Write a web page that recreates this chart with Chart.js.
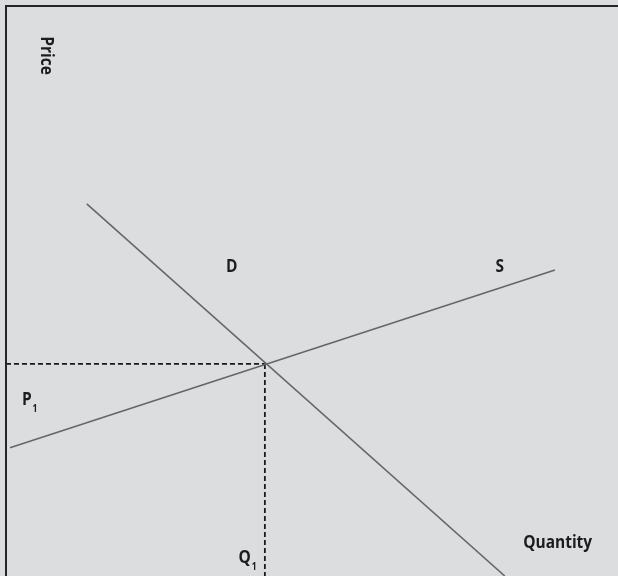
<!DOCTYPE html>
<html>
<head>
<meta charset="utf-8">
<script src="https://cdn.jsdelivr.net/npm/chart.js@4/dist/chart.umd.min.js"></script>
<style>
  html, body { margin: 0; padding: 0; background: #dcdddf; }
  #wrap { width: 618px; height: 576px; }
</style>
</head>
<body>
<div id="wrap"><canvas id="market"></canvas></div>
<script>
// demand and supply curves, in quantity / price units (0..100)
const demandQty = [13.2, 81.5];
const demandPrice = [65.3, 0];
const supplyQty = [0.65, 89.7];
const supplyPrice = [22.5, 53.7];

// where the two curves cross
const q1 = 42.3;
const p1 = 37.2;

const toPoints = (xs, ys) => xs.map((x, i) => ({ x: x, y: ys[i] }));

// text labels, anchored in data units
const labels = [
  { text: 'D', x: 36.9, y: 53.3, align: 'center' },
  { text: 'S', x: 80.7, y: 53.3, align: 'center' },
  { text: 'P', sub: '1', x: 2.6, y: 30.0, align: 'left' },
  { text: 'Q', sub: '1', x: 38.0, y: 2.3, align: 'left' },
  { text: 'Quantity', x: 84.5, y: 4.9, align: 'left' },
  { text: 'Price', x: 5.7, y: 94.7, align: 'left', rotate: true }
];

const FONT = '"Open Sans", "DejaVu Sans", sans-serif';
const SQUEEZE = 0.86; // narrower letters

const framePlugin = {
  id: 'frame',
  afterDatasetsDraw(chart) {
    const { ctx, chartArea } = chart;
    ctx.save();
    ctx.strokeStyle = '#262626';
    ctx.lineWidth = 2;
    ctx.beginPath();
    ctx.moveTo(chartArea.left, chart.height);
    ctx.lineTo(chartArea.left, chartArea.top);
    ctx.lineTo(chart.width, chartArea.top);
    ctx.stroke();
    ctx.restore();
  }
};

const labelPlugin = {
  id: 'labels',
  afterDraw(chart) {
    const { ctx } = chart;
    const xs = chart.scales.x, ys = chart.scales.y;
    ctx.save();
    ctx.fillStyle = '#1c1c1c';
    ctx.textBaseline = 'alphabetic';
    labels.forEach(l => {
      const px = xs.getPixelForValue(l.x);
      const py = ys.getPixelForValue(l.y);
      ctx.save();
      ctx.translate(px, py);
      if (l.rotate) ctx.rotate(Math.PI / 2);
      ctx.scale(SQUEEZE, 1);
      ctx.font = '700 18px ' + FONT;
      ctx.textAlign = l.align;
      ctx.fillText(l.text, 0, 0);
      if (l.sub) {
        const w = ctx.measureText(l.text).width;
        ctx.font = '700 10px ' + FONT;
        ctx.textAlign = 'left';
        ctx.fillText(l.sub, w + 1, 7);
      }
      ctx.restore();
    });
    ctx.restore();
  }
};

const curve = (data, color) => ({
  data: data,
  showLine: true,
  borderColor: color,
  borderWidth: 1.6,
  pointRadius: 0,
  fill: false
});

const dashed = data => ({
  data: data,
  showLine: true,
  borderColor: '#1a1a1a',
  borderWidth: 1.8,
  borderDash: [5, 3],
  pointRadius: 0,
  fill: false
});

new Chart(document.getElementById('market'), {
  type: 'scatter',
  data: {
    datasets: [
      curve(toPoints(demandQty, demandPrice), '#666666'),
      curve(toPoints(supplyQty, supplyPrice), '#666666'),
      dashed([{ x: 0, y: p1 }, { x: q1, y: p1 }]),
      dashed([{ x: q1, y: p1 }, { x: q1, y: 0 }])
    ]
  },
  options: {
    responsive: true,
    maintainAspectRatio: false,
    animation: false,
    layout: { padding: { left: 6, top: 6, right: 0, bottom: 0 } },
    scales: {
      x: { type: 'linear', min: 0, max: 100, display: false },
      y: { type: 'linear', min: 0, max: 100, display: false }
    },
    plugins: {
      legend: { display: false },
      tooltip: { enabled: false }
    }
  },
  plugins: [framePlugin, labelPlugin]
});
</script>
</body>
</html>
